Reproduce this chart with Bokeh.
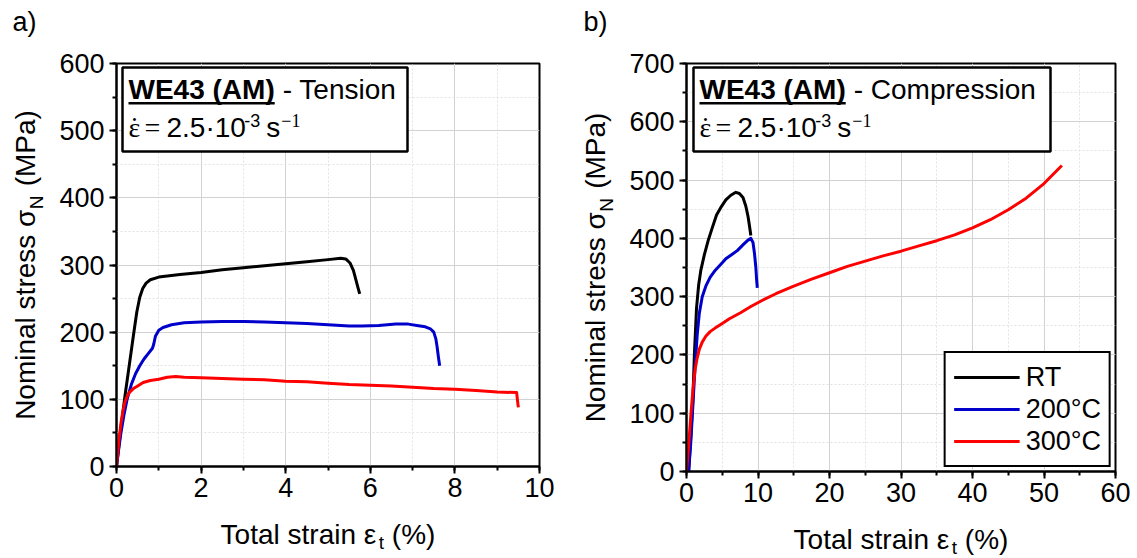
import math
from bokeh.plotting import figure
from bokeh.layouts import row
from bokeh.models import Label, BoxAnnotation, SingleIntervalTicker
from bokeh.embed import file_html
from bokeh.resources import INLINE

# ---------------- data ----------------
series_names = ["RT", "200°C", "300°C"]
series_colors = ["#000000", "#0000CC", "#FF0000"]

# (a) tension
ten_rt_strain = [0, 0.1, 0.2, 0.3, 0.4, 0.48, 0.55, 0.62, 0.7, 0.8, 1.0, 1.5, 2.0, 2.5, 3.0,
                 3.5, 4.0, 4.5, 5.0, 5.3, 5.42, 5.52, 5.6, 5.66, 5.71, 5.75]
ten_rt_stress = [0, 55, 105, 150, 195, 230, 252, 265, 273, 278, 282, 286, 289, 293, 296,
                 299, 302, 305, 308, 310, 309, 303, 292, 278, 266, 257]

ten_200_strain = [0, 0.05, 0.1, 0.18, 0.25, 0.35, 0.45, 0.55, 0.65, 0.75, 0.85, 0.88, 0.92,
                  1.0, 1.1, 1.3, 1.6, 2.0, 2.5, 3.0, 3.5, 4.0, 4.5, 5.0, 5.5, 5.8, 6.2, 6.6,
                  6.9, 7.1, 7.3, 7.42, 7.5, 7.55, 7.58, 7.61, 7.64]
ten_200_stress = [0, 25, 48, 78, 100, 122, 138, 150, 160, 168, 176, 182, 194,
                  203, 207, 211, 214, 215, 216, 216, 215, 214, 213, 211, 209, 209, 210, 212,
                  212, 210, 208, 205, 200, 190, 178, 163, 150]

ten_300_strain = [0, 0.05, 0.1, 0.15, 0.2, 0.25, 0.3, 0.4, 0.5, 0.63, 0.8, 1.0, 1.2, 1.4, 1.6,
                  2.0, 2.5, 3.0, 3.5, 4.0, 4.5, 5.0, 5.5, 6.0, 6.5, 7.0, 7.5, 8.0, 8.5, 9.0,
                  9.46, 9.48, 9.5]
ten_300_stress = [0, 35, 62, 82, 96, 104, 110, 116, 120, 125, 128, 130, 133, 134, 133,
                  132, 131, 130, 129, 127, 126, 124, 122, 121, 120, 118, 116, 115, 113, 111,
                  110, 98, 88]

# (b) compression
com_rt_strain = [0.3, 0.6, 0.9, 1.1, 1.4, 1.7, 2.0, 2.5, 3.0, 3.6, 4.2, 4.9, 5.5, 6.2, 6.9,
                 7.4, 7.9, 8.3, 8.6, 8.8, 9.0]
com_rt_stress = [0, 60, 125, 200, 280, 320, 345, 372, 395, 418, 440, 455, 466, 474, 479,
                 477, 470, 455, 438, 422, 405]

com_200_strain = [0.3, 0.6, 0.9, 1.2, 1.5, 1.8, 2.2, 2.7, 3.3, 4.0, 5.0, 5.5, 6.3, 7.1, 8.0,
                  8.6, 9.0, 9.3, 9.5, 9.7, 9.8, 9.9]
com_200_stress = [0, 50, 115, 180, 235, 272, 300, 318, 333, 345, 358, 365, 372, 379, 390,
                  397, 400, 393, 375, 350, 330, 315]

com_300_strain = [0, 0.3, 0.6, 0.9, 1.2, 1.5, 1.8, 2.2, 2.7, 3.3, 4.0, 5.0, 6.0, 7.5, 9.0,
                  10.5, 12.5, 15.0, 17.5, 20.0, 22.5, 25.0, 27.5, 30.0, 32.5, 35.0, 37.5,
                  40.0, 42.5, 45.0, 47.5, 50.0, 52.5]
com_300_stress = [0, 45, 95, 140, 175, 195, 210, 222, 232, 240, 246, 254, 262, 272, 283,
                  293, 305, 318, 330, 341, 352, 361, 370, 378, 387, 396, 406,
                  418, 432, 449, 469, 494, 525]

x_ticks_a = [0, 2, 4, 6, 8, 10]
y_ticks_a = [0, 100, 200, 300, 400, 500, 600]
x_ticks_b = [0, 10, 20, 30, 40, 50, 60]
y_ticks_b = [0, 100, 200, 300, 400, 500, 600, 700]

y_title_main = "Nominal stress σ"
y_title_sub = "N"
y_title_end = "(MPa)"
x_title_main = "Total strain ε"
x_title_sub = "t"
x_title_end = "(%)"

FONT = "Liberation Sans"
SERIF = "Liberation Serif"
NB = "\u00a0"
TS = 28  # axis title font size (px)


def make_panel(xt, yt, fw, fh, bl, br, bt, bb):
    p = figure(frame_width=fw, frame_height=fh,
               x_range=(xt[0], xt[-1]), y_range=(yt[0], yt[-1]),
               min_border_left=bl, min_border_right=br, min_border_top=bt, min_border_bottom=bb,
               output_backend="svg", toolbar_location=None)
    p.xaxis.ticker = SingleIntervalTicker(interval=xt[1] - xt[0], num_minor_ticks=2)
    p.yaxis.ticker = SingleIntervalTicker(interval=yt[1] - yt[0], num_minor_ticks=2)
    for ax in p.axis:
        ax.axis_line_width = 2
        ax.axis_line_color = "black"
        ax.major_tick_line_width = 2
        ax.minor_tick_line_width = 2
        ax.major_tick_line_color = "black"
        ax.minor_tick_line_color = "black"
        ax.major_tick_out = 7
        ax.major_tick_in = 0
        ax.minor_tick_out = 4
        ax.minor_tick_in = 0
        ax.major_label_text_font = FONT
        ax.major_label_text_font_size = "27px"
        ax.major_label_text_color = "black"
        ax.axis_label_text_font = FONT
        ax.axis_label_text_font_size = f"{TS}px"
        ax.axis_label_text_font_style = "normal"
        ax.axis_label_text_color = "black"
    p.xaxis.major_label_standoff = 4
    p.yaxis.major_label_standoff = 5
    p.xaxis.axis_label = x_title_main + NB + NB + x_title_end
    p.yaxis.axis_label = y_title_main + NB + NB + NB + y_title_end
    p.xaxis.axis_label_standoff = 19
    p.yaxis.axis_label_standoff = 15
    p.outline_line_color = "black"
    p.outline_line_width = 2
    p.outline_line_alpha = 1
    p.grid.grid_line_color = "#d2d2d2"
    p.grid.grid_line_width = 1
    p.grid.minor_grid_line_color = "#e2e2e2"
    p.grid.minor_grid_line_dash = "2 2"
    p.background_fill_color = "white"
    p.border_fill_color = "white"
    return p


def mapper(xt, yt, L, T, fw, fh):
    def X(px):
        return xt[0] + (px - L) / fw * (xt[-1] - xt[0])

    def Y(py):
        return yt[0] + (T + fh - py) / fh * (yt[-1] - yt[0])
    return X, Y


def lab(p, ox, px, py, text, size=27, font=FONT, align="left", angle=0.0, style="normal",
        place="center"):
    # px, py: page pixels of the text baseline start; ox: canvas x offset of this figure
    shift = 0.36 * size
    if angle == 0.0:
        cx, cy = px - ox, py - shift
    else:
        cx, cy = px - ox - shift, py
    lbl = Label(x=cx, y=cy, x_units="canvas", y_units="canvas", text=text,
                text_font=font, text_font_size=f"{size}px", text_align=align,
                text_baseline="alphabetic", angle=angle, text_color="black",
                text_font_style=style)
    p.add_layout(lbl, place)


def decorate(p, ox, X, Y, L, T, FW, FH, box_l, box_r, box_t, box_b, mode, panel_letter,
             letter_x, ylab_x, xlab_y):
    k = TS / 1000.0
    # panel letter (side panel, so it is not clipped to the frame)
    lab(p, ox, letter_x, 31, panel_letter, size=27, place="above")
    # subscript N of the y title
    yc = T + FH / 2
    W = (7463 + 3 * 278 + 2722) * k
    A = yc + W / 2 - 7463 * k
    lab(p, ox, ylab_x + 5, A - 1, y_title_sub, size=19, angle=math.pi / 2, place="right")
    # subscript t of the x title
    xc = ox + L + FW / 2
    V = (5664 + 2 * 278 + 1555) * k
    B = xc - V / 2 + 5664 * k
    lab(p, ox, B + 1, xlab_y + 6, x_title_sub, size=19, place="above")
    # info box
    p.add_layout(BoxAnnotation(left=X(box_l), right=X(box_r), top=Y(box_t), bottom=Y(box_b),
                               fill_color="white", fill_alpha=1.0, line_color="black",
                               line_width=2.5, line_alpha=1.0))
    tx = box_l + 6
    wb = 5222 * 0.028
    lab(p, ox, tx, 99, "WE43 (AM)", size=28, style="bold")
    p.add_layout(BoxAnnotation(left=X(tx), right=X(tx + wb), top=Y(101.5), bottom=Y(104),
                               fill_color="black", fill_alpha=1.0, line_alpha=0))
    lab(p, ox, tx + wb + 8, 99, "- " + mode, size=28)
    # strain rate line
    lab(p, ox, tx + 6, 137, "ε", size=28, font=SERIF, align="center")
    lab(p, ox, tx + 6, 136, "˙", size=28, font=SERIF, align="center")
    lab(p, ox, tx + 16, 137, "=", size=28, font=SERIF)
    lab(p, ox, tx + 38, 137, "2.5·10", size=28)
    w25 = 2780 * 0.028
    lab(p, ox, tx + 38 + w25, 126, "-3", size=18)
    lab(p, ox, tx + 38 + w25 + 22, 137, "s", size=28)
    lab(p, ox, tx + 38 + w25 + 37, 126, "−1", size=18, font=SERIF)


# ---------------- panel a ----------------
La, Ta, FWa, FHa = 116, 63, 423, 403
pa = make_panel(x_ticks_a, y_ticks_a, FWa, FHa, La, 29, Ta, 558 - Ta - FHa)
Xa, Ya = mapper(x_ticks_a, y_ticks_a, La, Ta, FWa, FHa)
for xs, ys, c in [(ten_rt_strain, ten_rt_stress, series_colors[0]),
                  (ten_200_strain, ten_200_stress, series_colors[1]),
                  (ten_300_strain, ten_300_stress, series_colors[2])]:
    pa.line(xs, ys, line_color=c, line_width=3, line_join="round")
decorate(pa, 0, Xa, Ya, La, Ta, FWa, FHa, 122, 407, 67, 151, "Tension", "a)", 12, 38, 543)

# ---------------- panel b ----------------
OXB = 568
Lb, Tb, FWb, FHb = 118, 63, 429, 408
pb = make_panel(x_ticks_b, y_ticks_b, FWb, FHb, Lb, 22, Tb, 558 - Tb - FHb)
Xb0, Yb = mapper(x_ticks_b, y_ticks_b, Lb, Tb, FWb, FHb)


def Xb(px):
    return Xb0(px - OXB)


for xs, ys, c, n in [(com_rt_strain, com_rt_stress, series_colors[0], series_names[0]),
                     (com_200_strain, com_200_stress, series_colors[1], series_names[1]),
                     (com_300_strain, com_300_stress, series_colors[2], series_names[2])]:
    pb.line(xs, ys, line_color=c, line_width=3, line_join="round", legend_label=n)
decorate(pb, OXB, Xb, Yb, Lb, Tb, FWb, FHb, 693, 1050, 67, 151, "Compression", "b)", 583,
         OXB + 40, 548)

lg = pb.legend[0]
lg.location = "bottom_right"
lg.margin = 4
lg.padding = 8
lg.spacing = 0
lg.glyph_width = 66
lg.glyph_height = 32
lg.label_height = 32
lg.label_standoff = 6
lg.label_text_font = FONT
lg.label_text_font_size = "27px"
lg.label_text_color = "black"
lg.border_line_color = "black"
lg.border_line_width = 2
lg.border_line_alpha = 1
lg.background_fill_alpha = 1

layout = row(pa, pb)
open("out.html", "w").write(file_html(layout, INLINE))
